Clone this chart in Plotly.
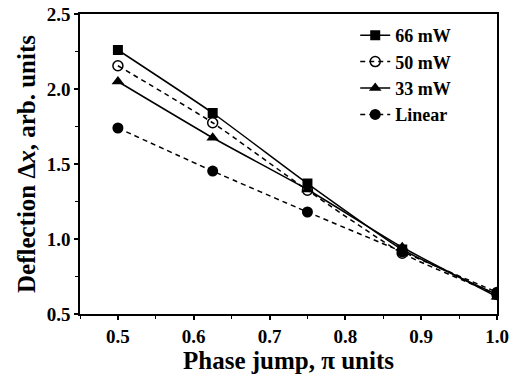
import plotly.graph_objects as go

phase = [0.5, 0.625, 0.75, 0.875, 1.0]
p66 = [2.26, 1.84, 1.37, 0.93, 0.63]
p50 = [2.155, 1.775, 1.325, 0.905, 0.63]
p33 = [2.05, 1.675, 1.33, 0.945, 0.615]
linear = [1.74, 1.453, 1.18, 0.915, 0.645]

series = [
    ("66 mW", p66, "solid", dict(symbol="square", size=10, color="black")),
    ("50 mW", p50, "5px,4px", dict(symbol="circle-open", size=10, color="black", line=dict(width=1.5, color="black"))),
    ("33 mW", p33, "solid", dict(symbol="triangle-up", size=11, color="black")),
    ("Linear", linear, "5px,4px", dict(symbol="circle", size=11, color="black")),
]

fig = go.Figure()
for name, ys, dash, mk in series:
    fig.add_trace(go.Scatter(
        x=phase, y=ys, name=name, mode="lines+markers",
        line=dict(color="black", width=1.5, dash=dash, shape="spline", smoothing=0.5),
        marker=mk,
    ))

font = "Liberation Serif"
axis_common = dict(
    showline=True, linecolor="black", linewidth=1.5, mirror=True,
    ticks="outside", ticklen=4, tickwidth=1.5, tickcolor="black",
    showgrid=False, zeroline=False, automargin=False, ticklabeloverflow="allow",
    tickfont=dict(family=font, size=19, color="black", weight="bold"),
)

fig.update_layout(
    width=519, height=377,
    margin=dict(l=80, r=22, t=14, b=63),
    paper_bgcolor="white", plot_bgcolor="white",
    font=dict(family=font, color="black"),
    xaxis=dict(range=[0.45, 1.0], dtick=0.1, tick0=0.5, tickformat=".1f",
               minor=dict(dtick=0.05, ticks="outside", ticklen=3, tickcolor="black", tickwidth=1),
               title=dict(text="Phase jump, π units", font=dict(family=font, size=25, color="black", weight="bold"), standoff=2),
               **axis_common),
    yaxis=dict(range=[0.5, 2.5], dtick=0.5, tickformat=".1f",
               minor=dict(dtick=0.25, ticks="outside", ticklen=3, tickcolor="black", tickwidth=1),
               title=dict(text="Deflection Δ<i>x</i>, arb. units", font=dict(family=font, size=25, color="black", weight="bold"), standoff=4),
               **axis_common),
    legend=dict(x=0.66, y=0.99, xanchor="left", yanchor="top",
                bgcolor="rgba(0,0,0,0)", borderwidth=0,
                font=dict(family=font, size=18, color="black", weight="bold"),
                tracegroupgap=0),
    showlegend=True,
)

fig.write_html("out.html", config={"displayModeBar": False},
               post_script="document.body.style.margin='0';")
